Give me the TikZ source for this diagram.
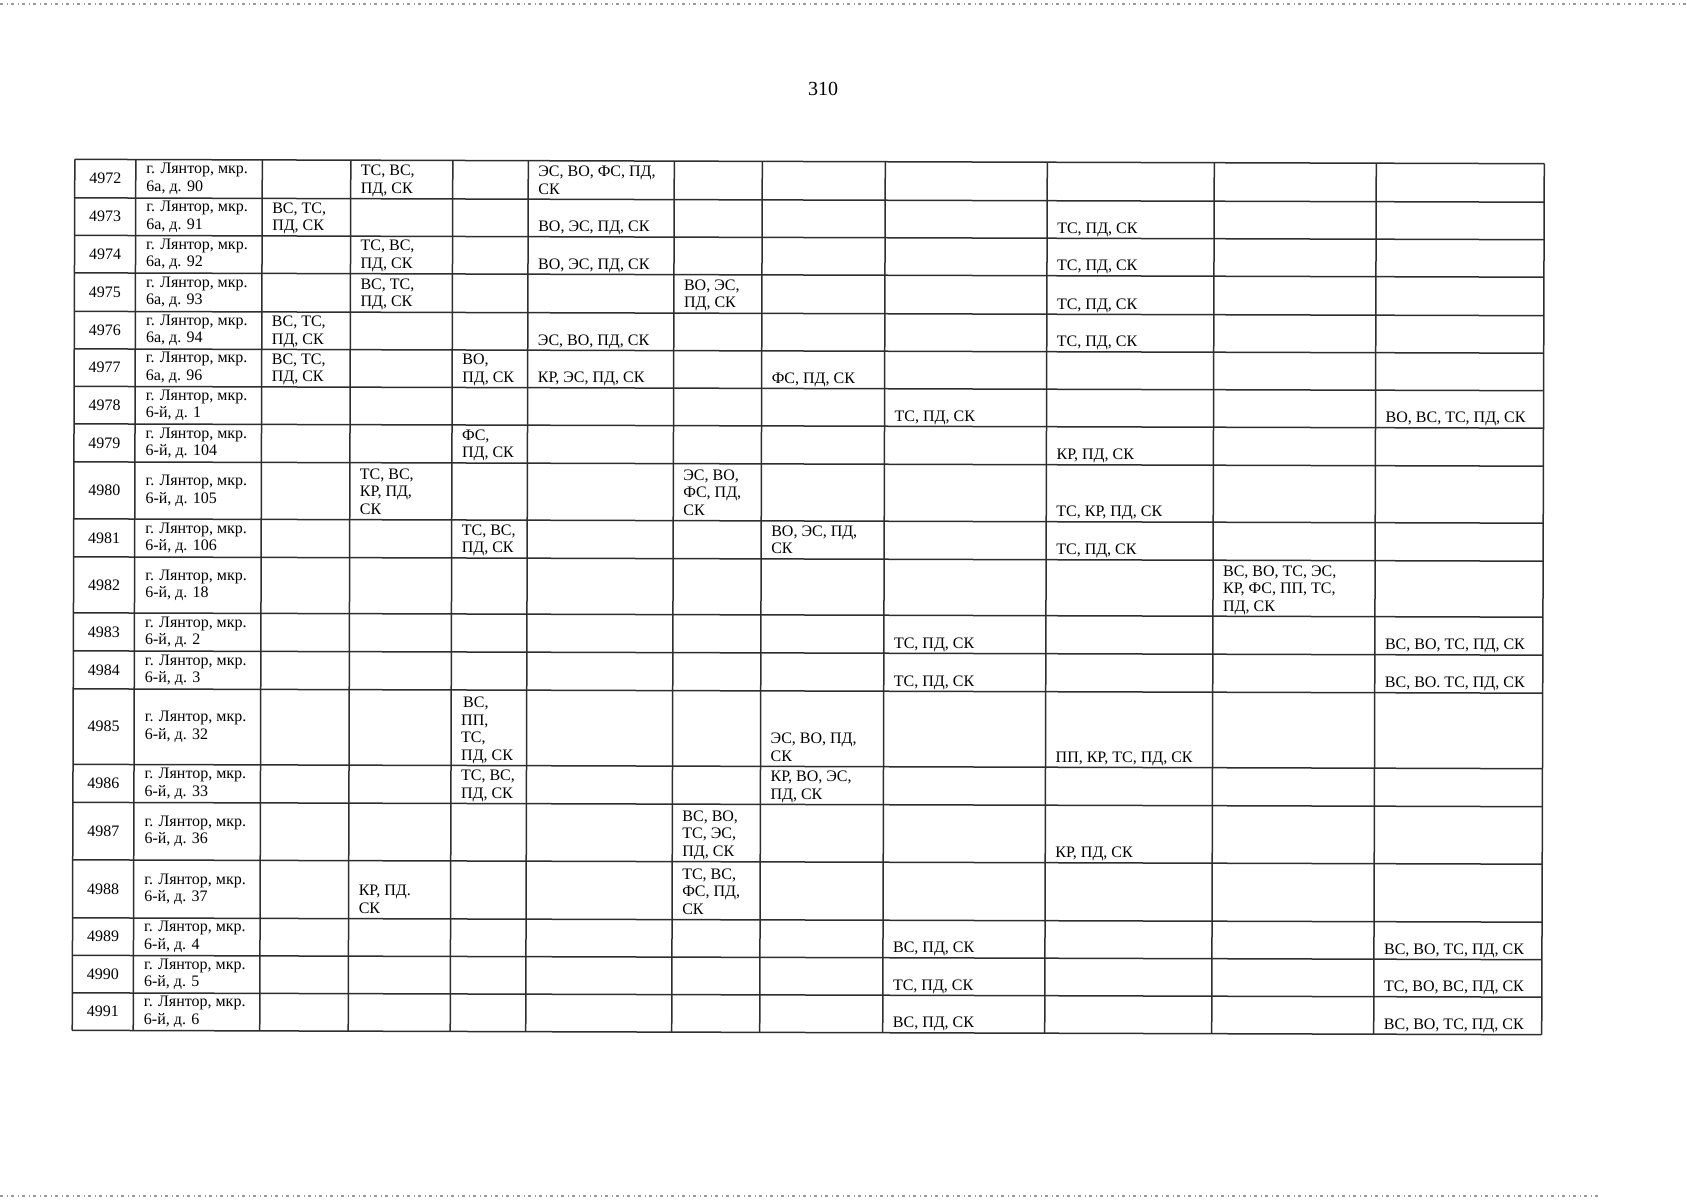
\documentclass[tikz,border=0pt]{standalone}
\usepackage{fontspec}
\setmainfont{Liberation Serif}
\newcommand\cellfont{\fontsize{16}{17.5}\selectfont}
\newcommand\Sx{\rule[-5pt]{0pt}{17.5pt}}
\newcommand\CXv[1]{\ifcase\numexpr#1\relax 73.5\or 134.5\or 261\or 349.5\or 451.5\or 527\or 673\or 761\or 884\or 1046\or 1213\or 1375\or 1543\fi}
\newcommand\RYv[1]{\ifcase\numexpr#1\relax 161.5\or 200\or 237.5\or 275\or 313.5\or 351\or 388.5\or 426\or 464\or 521\or 559\or 615\or 653\or 691\or 766.5\or 804.5\or 862\or 920\or 957.5\or 995\or 1032.5\fi}
\newcommand\cell[3]{%
  \edef\tmpx{\CXv{#1}}\edef\tmpy{\RYv{#2+1}}%
  \pgfmathsetmacro\cxv{\tmpx+10}%
  \node[celltext] (c-#2-#1) at (\cxv,\tmpy) {\Sx#3\Sx};%
}
\newcommand\rowlab[3]{%
  \edef\tmpa{\RYv{#1}}\edef\tmpb{\RYv{#1+1}}%
  \pgfmathsetmacro\cyv{(\tmpa+\tmpb)/2}%
  \node[numtext] (n-#1) at (104,\cyv) {#2};%
  \node[addrtext] (a-#1) at (145,\cyv) {\Sx г. Лянтор, мкр.\\#3\Sx};%
}
\begin{document}
\begin{tikzpicture}[x=1pt,y=-1pt,
  grid/.style={line width=1.5pt, draw=black!82},
  celltext/.style={anchor=south west, align=left, inner sep=0pt, font=\cellfont},
  addrtext/.style={anchor=west, align=left, inner sep=0pt, font=\cellfont},
  numtext/.style={anchor=center, inner sep=0pt, font=\cellfont},
  scan/.style={draw=black!40, line width=1.2pt, dash pattern=on 3pt off 4pt on 1pt off 3pt}]
\useasboundingbox (0,0) rectangle (1686,1200);
\fill[white] (0,0) rectangle (1686,1200);
\draw[scan] (0,4) -- (1686,4);
\draw[scan] (0,1196) -- (1600,1196);
\node[font=\fontsize{20}{22}\selectfont, inner sep=0pt] (pagenum) at (823,89) {310};
\begin{scope}[rotate around={-0.17:(808,597)}]
\foreach \yy in {161.5,200,237.5,275,313.5,351,388.5,426,464,521,559,615,653,691,766.5,804.5,862,920,957.5,995,1032.5}
  \draw[grid] (73.5,\yy) -- (1543,\yy);
\foreach \xx in {73.5,134.5,261,349.5,451.5,527,673,761,884,1046,1213,1375,1543}
  \draw[grid] (\xx,161.5) -- (\xx,1032.5);
\rowlab{0}{4972}{6а, д. 90}
\rowlab{1}{4973}{6а, д. 91}
\rowlab{2}{4974}{6а, д. 92}
\rowlab{3}{4975}{6а, д. 93}
\rowlab{4}{4976}{6а, д. 94}
\rowlab{5}{4977}{6а, д. 96}
\rowlab{6}{4978}{6-й, д. 1}
\rowlab{7}{4979}{6-й, д. 104}
\rowlab{8}{4980}{6-й, д. 105}
\rowlab{9}{4981}{6-й, д. 106}
\rowlab{10}{4982}{6-й, д. 18}
\rowlab{11}{4983}{6-й, д. 2}
\rowlab{12}{4984}{6-й, д. 3}
\rowlab{13}{4985}{6-й, д. 32}
\rowlab{14}{4986}{6-й, д. 33}
\rowlab{15}{4987}{6-й, д. 36}
\rowlab{16}{4988}{6-й, д. 37}
\rowlab{17}{4989}{6-й, д. 4}
\rowlab{18}{4990}{6-й, д. 5}
\rowlab{19}{4991}{6-й, д. 6}
% row 0
\cell{3}{0}{ТС, ВС,\\ПД, СК}
\cell{5}{0}{ЭС, ВО, ФС, ПД,\\СК}
% row 1
\cell{2}{1}{ВС, ТС,\\ПД, СК}
\cell{5}{1}{ВО, ЭС, ПД, СК}
\cell{9}{1}{ТС, ПД, СК}
% row 2
\cell{3}{2}{ТС, ВС,\\ПД, СК}
\cell{5}{2}{ВО, ЭС, ПД, СК}
\cell{9}{2}{ТС, ПД, СК}
% row 3
\cell{3}{3}{ВС, ТС,\\ПД, СК}
\cell{6}{3}{ВО, ЭС,\\ПД, СК}
\cell{9}{3}{ТС, ПД, СК}
% row 4
\cell{2}{4}{ВС, ТС,\\ПД, СК}
\cell{5}{4}{ЭС, ВО, ПД, СК}
\cell{9}{4}{ТС, ПД, СК}
% row 5
\cell{2}{5}{ВС, ТС,\\ПД, СК}
\cell{4}{5}{ВО,\\ПД, СК}
\cell{5}{5}{КР, ЭС, ПД, СК}
\cell{7}{5}{ФС, ПД, СК}
% row 6
\cell{8}{6}{ТС, ПД, СК}
\cell{11}{6}{ВО, ВС, ТС, ПД, СК}
% row 7
\cell{4}{7}{ФС,\\ПД, СК}
\cell{9}{7}{КР, ПД, СК}
% row 8
\cell{3}{8}{ТС, ВС,\\КР, ПД,\\СК}
\cell{6}{8}{ЭС, ВО,\\ФС, ПД,\\СК}
\cell{9}{8}{ТС, КР, ПД, СК}
% row 9
\cell{4}{9}{ТС, ВС,\\ПД, СК}
\cell{7}{9}{ВО, ЭС, ПД,\\СК}
\cell{9}{9}{ТС, ПД, СК}
% row 10
\cell{10}{10}{ВС, ВО, ТС, ЭС,\\КР, ФС, ПП, ТС,\\ПД, СК}
% row 11
\cell{8}{11}{ТС, ПД, СК}
\cell{11}{11}{ВС, ВО, ТС, ПД, СК}
% row 12
\cell{8}{12}{ТС, ПД, СК}
\cell{11}{12}{ВС, ВО. ТС, ПД, СК}
% row 13
\cell{4}{13}{\hspace{2pt}ВС,\\ПП,\\ТС,\\ПД, СК}
\cell{7}{13}{ЭС, ВО, ПД,\\СК}
\cell{9}{13}{ПП, КР, ТС, ПД, СК}
% row 14
\cell{4}{14}{ТС, ВС,\\ПД, СК}
\cell{7}{14}{КР, ВО, ЭС,\\ПД, СК}
% row 15
\cell{6}{15}{ВС, ВО,\\ТС, ЭС,\\ПД, СК}
\cell{9}{15}{КР, ПД, СК}
% row 16
\cell{3}{16}{КР, ПД.\\СК}
\cell{6}{16}{ТС, ВС,\\ФС, ПД,\\СК}
% row 17
\cell{8}{17}{ВС, ПД, СК}
\cell{11}{17}{ВС, ВО, ТС, ПД, СК}
% row 18
\cell{8}{18}{ТС, ПД, СК}
\cell{11}{18}{ТС, ВО, ВС, ПД, СК}
% row 19
\cell{8}{19}{ВС, ПД, СК}
\cell{11}{19}{ВС, ВО, ТС, ПД, СК}
\end{scope}
\end{tikzpicture}
\end{document}
